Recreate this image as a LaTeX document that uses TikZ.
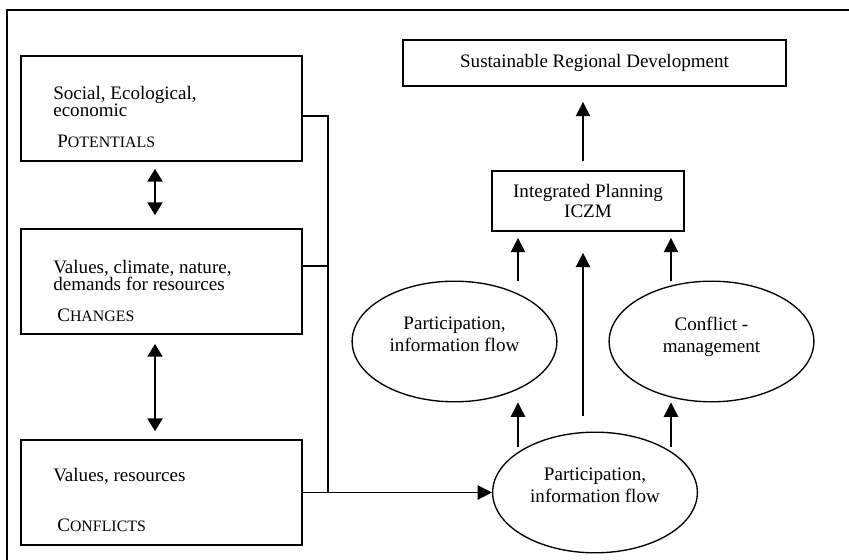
\documentclass[tikz,border=0pt]{standalone}
\usepackage{fontspec}
\setmainfont{Liberation Serif}
\usetikzlibrary{arrows.meta,shapes.geometric}

% small capitals by hand: first letter full size, rest smaller
\newcommand{\fakesc}[2]{#1{\fontsize{10}{12}\selectfont #2}}

\tikzset{
  panel/.style={draw, line width=1.1pt, minimum width=177pt, minimum height=66.2pt, inner sep=0pt},
  ptext/.style={anchor=base west, align=left, inner sep=0pt, font=\fontsize{12}{11.3}\selectfont},
  tbox/.style={draw, line width=1.1pt, inner sep=0pt},
  blob/.style={draw, ellipse, line width=0.85pt, minimum width=129pt, minimum height=76pt,
    inner sep=0pt, align=center, text depth=9pt, font=\fontsize{12}{13.8}\selectfont},
  arr/.style={-{Triangle[length=9pt,width=9pt]}, line width=0.9pt},
  dbl/.style={{Triangle[length=8pt,width=9.5pt]}-{Triangle[length=8pt,width=9.5pt]}, line width=1pt},
}

\begin{document}
\begin{tikzpicture}[x=0.63pt, y=-0.63pt, font=\fontsize{12}{14}\selectfont]
  \useasboundingbox (0,0) rectangle (849,560);
  % frame, cut off at the right and at the bottom
  \draw[line width=1.1pt] (7,560) -- (7,10) -- (849,10);

  % left column
  \node[panel] (pot) at (161.5,108.5) {};
  \node[panel] (chg) at (161.5,281.5) {};
  \node[panel] (con) at (161.5,492.5) {};

  % base of a two line text is its last line
  \node[ptext] (potA) at (53,117) {Social, Ecological,\\economic};
  \node[ptext] (potB) at (57,148) {\fakesc{P}{OTENTIALS}};
  \node[ptext] (chgA) at (53,291) {Values, climate, nature,\\demands for resources};
  \node[ptext] (chgB) at (57,322) {\fakesc{C}{HANGES}};
  \node[ptext] (conA) at (53,482) {Values, resources};
  \node[ptext] (conB) at (57,532) {\fakesc{C}{ONFLICTS}};

  \coordinate (cA) at (155,0);
  \draw[dbl, shorten <=4.4pt, shorten >=8.2pt] (cA |- pot.south) -- (cA |- chg.north);
  \draw[dbl, shorten <=5.7pt, shorten >=5pt] (cA |- chg.south) -- (cA |- con.north);

  % right column
  \node[tbox, minimum width=241.3pt, minimum height=29pt] (srd) at (594.5,63) {Sustainable Regional Development};
  \node[tbox, minimum width=121pt, minimum height=37.8pt, align=center,
    font=\fontsize{12}{12.6}\selectfont] (ip) at (588,201) {Integrated Planning\\ICZM};

  \node[blob] (pifL) at (454.5,341.5) {Participation,\\information flow};
  \node[blob] (cm) at (711.5,341.5) {Conflict -\\management};
  \node[blob] (pifB) at (595,492.5) {Participation,\\information flow};

  % collecting line
  \coordinate (bus) at (328,0);
  \draw[line width=1.1pt] ([yshift=-4.7pt]pot.east) -| (bus |- con.east);
  \draw[line width=1.1pt] ([yshift=9.8pt]chg.east) -- ++(26,0);
  \draw[arr] (con.east) -- (pifB.west);

  \coordinate (cL) at (518,0);
  \coordinate (cM) at (583,0);
  \coordinate (cR) at (671,0);
  \draw[arr, shorten <=5.7pt, shorten >=9.5pt] (cM |- ip.north) -- (cM |- srd.south);
  \draw[arr, shorten >=3.8pt] (cL |- pifL.north) -- (cL |- ip.south);
  \draw[arr, shorten >=3.8pt] (cR |- cm.north) -- (cR |- ip.south);
  \draw[arr, shorten <=9.5pt, shorten >=13.2pt] (cM |- pifB.north) -- (cM |- ip.south);
  \draw[arr, shorten <=-9.5pt] (cL |- pifB.north) -- (cL |- pifL.south);
  \draw[arr, shorten <=-9.5pt] (cR |- pifB.north) -- (cR |- cm.south);
\end{tikzpicture}
\end{document}
